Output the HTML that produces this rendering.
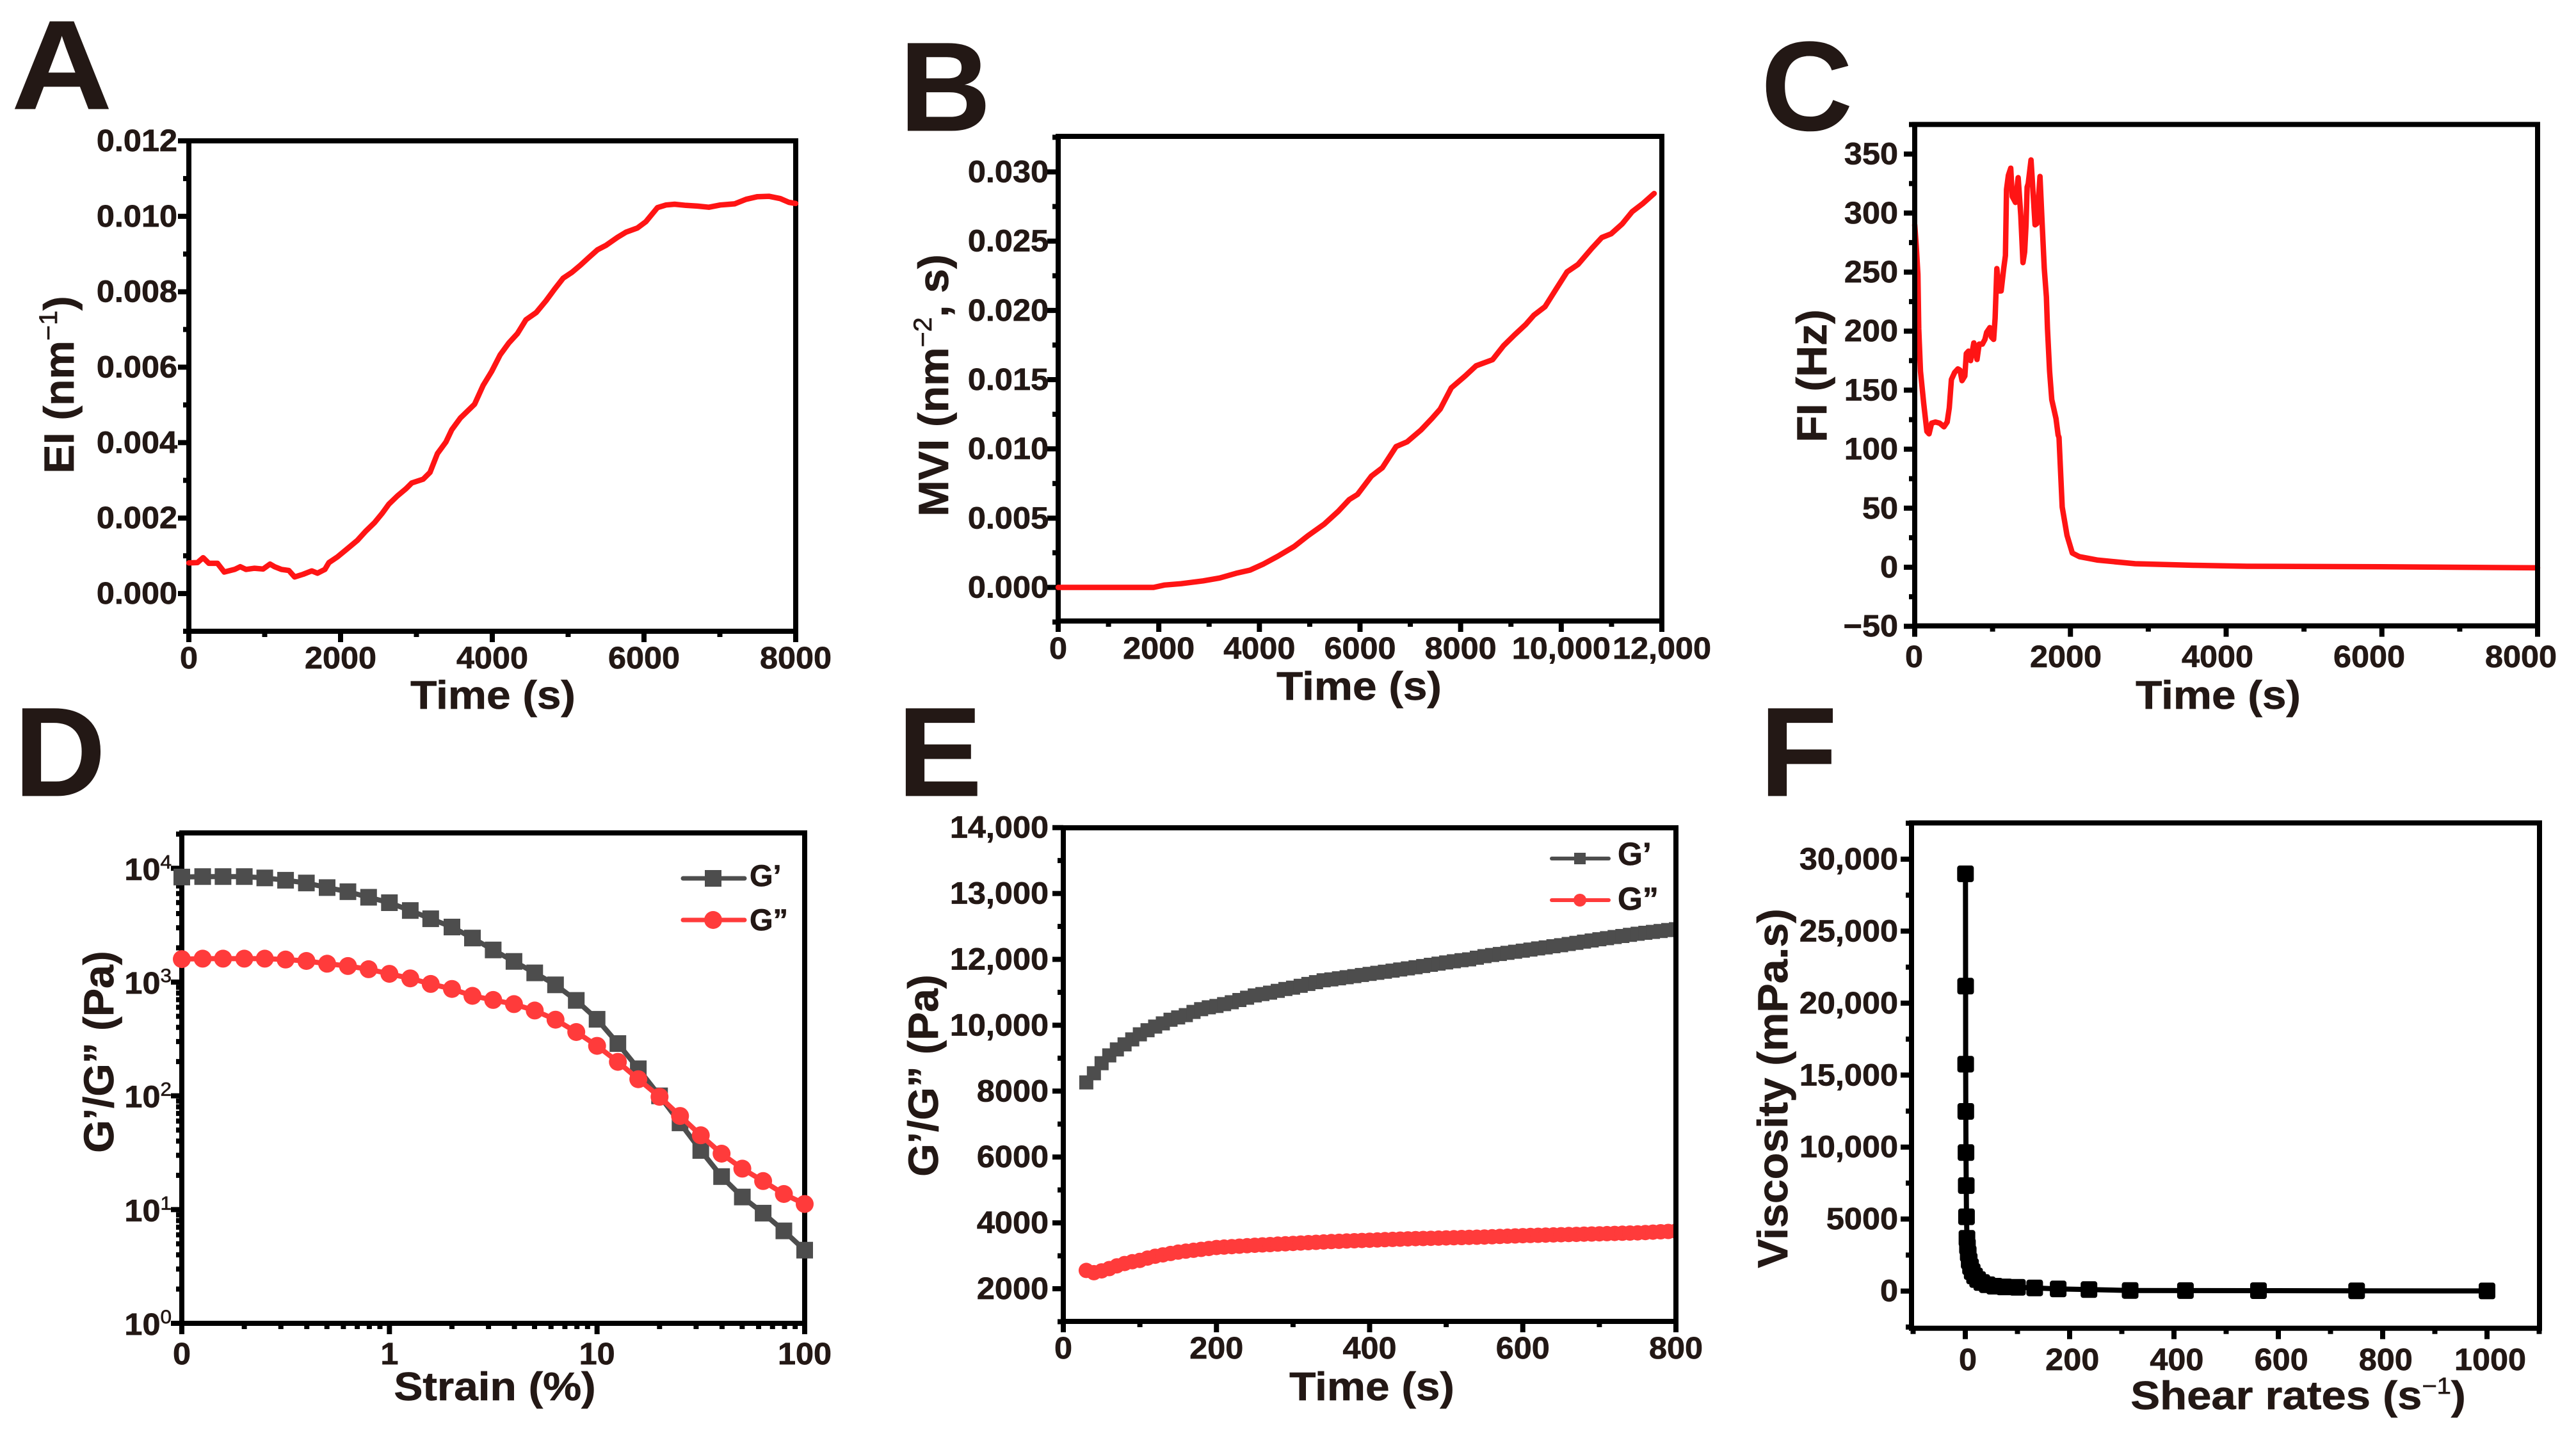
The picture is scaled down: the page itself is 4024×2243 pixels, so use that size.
<!DOCTYPE html>
<html lang="en">
<head>
<meta charset="utf-8">
<title>Rheology and viscoelasticity panels</title>
<style>
html,body{margin:0;padding:0;background:#fff;}
svg{display:block;}
text{font-family:"Liberation Sans",Arial,sans-serif;font-weight:700;fill:#231815;stroke:#231815;stroke-width:0.7;}
</style>
</head>
<body>
<svg id="figure" xmlns="http://www.w3.org/2000/svg" width="4024" height="2243" viewBox="0 0 4024 2243">
  <defs>
    <clipPath id="panel-e-clip"><rect x="1661" y="1293" width="957" height="771"/></clipPath>
  </defs>
  <rect x="0" y="0" width="4024" height="2243" fill="#ffffff"/>

  <text transform="translate(18,170) scale(1.1,1)" font-size="198">A</text>
  <text x="1405" y="204" font-size="198">B</text>
  <text x="2751" y="203" font-size="198">C</text>
  <text x="22" y="1243" font-size="198">D</text>
  <text x="1402" y="1243" font-size="198">E</text>
  <text x="2749" y="1243" font-size="198">F</text>

  <g id="panel-a"></g>
  <g id="panel-b"></g>
  <g id="panel-c"></g>
  <g id="panel-d"></g>
  <g id="panel-e"></g>
  <g id="panel-f"></g>

  <text transform="translate(770,1107) scale(1.09,1)" text-anchor="middle" font-size="62">Time (s)</text>
  <text transform="translate(115,601) rotate(-90) scale(1.03,1)" text-anchor="middle" font-size="66">EI (nm<tspan dy="-26" font-size="40" font-weight="400">−1</tspan><tspan dy="26">)</tspan></text>

  <text transform="translate(2123,1093) scale(1.09,1)" text-anchor="middle" font-size="62">Time (s)</text>
  <text transform="translate(1481,602) rotate(-90) scale(1.03,1)" text-anchor="middle" font-size="66">MVI (nm<tspan dy="-26" font-size="40" font-weight="400">−2</tspan><tspan dy="26">, s)</tspan></text>

  <text transform="translate(3465,1107) scale(1.09,1)" text-anchor="middle" font-size="62">Time (s)</text>
  <text transform="translate(2853,587) rotate(-90) scale(1.03,1)" text-anchor="middle" font-size="66">FI (Hz)</text>

  <text transform="translate(773,2187) scale(1.09,1)" text-anchor="middle" font-size="62">Strain (%)</text>
  <text transform="translate(177,1643) rotate(-90) scale(1.0,1)" text-anchor="middle" font-size="66">G’/G” (Pa)</text>

  <text transform="translate(2143,2187) scale(1.09,1)" text-anchor="middle" font-size="62">Time (s)</text>
  <text transform="translate(1465,1680) rotate(-90) scale(1.0,1)" text-anchor="middle" font-size="66">G’/G” (Pa)</text>

  <text transform="translate(3590,2201) scale(1.11,1)" text-anchor="middle" font-size="62">Shear rates (s<tspan dy="-24" font-size="36" font-weight="400">−1</tspan><tspan dy="24">)</tspan></text>
  <text transform="translate(2792,1700) rotate(-90) scale(1.03,1)" text-anchor="middle" font-size="66">Viscosity (mPa.s)</text>

  <g>
    <line x1="1067" y1="1372" x2="1163" y2="1372" stroke="#4d4d4d" stroke-width="7" stroke-linecap="round"/>
    <rect x="1101" y="1359" width="26" height="26" fill="#4d4d4d"/>
    <text x="1171" y="1384" font-size="47">G’</text>
    <line x1="1067" y1="1437" x2="1163" y2="1437" stroke="#ff3b3b" stroke-width="7" stroke-linecap="round"/>
    <circle cx="1114" cy="1437" r="14" fill="#ff3b3b"/>
    <text x="1171" y="1453" font-size="47">G”</text>
  </g>
  <g>
    <line x1="2424" y1="1341" x2="2513" y2="1341" stroke="#4d4d4d" stroke-width="6" stroke-linecap="round"/>
    <rect x="2459" y="1332" width="18" height="18" fill="#4d4d4d"/>
    <text x="2527" y="1351" font-size="50">G’</text>
    <line x1="2424" y1="1406" x2="2513" y2="1406" stroke="#ff3b3b" stroke-width="6" stroke-linecap="round"/>
    <circle cx="2468" cy="1406" r="10" fill="#ff3b3b"/>
    <text x="2527" y="1421" font-size="50">G”</text>
  </g>
</svg>

<script>
/* ---------- Panel A ---------- */
const aTime = [0,113,188,264,377,467,603,678,753,866,979,1070,1130,1220,1318,1394,1507,1620,1695,1793,1846,1959,2109,2222,2335,2448,2546,2637,2750,2863,2938,3089,3179,3277,3390,3465,3578,3767,3880,3992,4105,4218,4331,4445,4580,4708,4821,4934,5047,5160,5273,5386,5499,5650,5763,5913,6026,6177,6290,6403,6554,6704,6855,7006,7194,7345,7495,7646,7797,7910,8000];
const aEI = [0.00081,0.00082,0.00095,0.00080,0.00080,0.00057,0.00064,0.00071,0.00064,0.00067,0.00065,0.00078,0.00071,0.00064,0.00061,0.00044,0.00051,0.00060,0.00054,0.00064,0.00082,0.00097,0.00122,0.00141,0.00166,0.00188,0.00212,0.00237,0.00259,0.00278,0.00293,0.00303,0.00321,0.00371,0.00402,0.00434,0.00465,0.00502,0.00552,0.00589,0.00633,0.00664,0.00689,0.00726,0.00745,0.00776,0.00807,0.00836,0.00851,0.00870,0.00891,0.00911,0.00923,0.00944,0.00958,0.00969,0.00986,0.01023,0.01030,0.01032,0.01029,0.01027,0.01024,0.01030,0.01033,0.01045,0.01052,0.01053,0.01047,0.01037,0.01034];
const aXTicks = [0,2000,4000,6000,8000];
const aXLabels = ["0","2000","4000","6000","8000"];
const aXMinor = [1000,3000,5000,7000];
const aYTicks = [0,0.002,0.004,0.006,0.008,0.010,0.012];
const aYLabels = ["0.000","0.002","0.004","0.006","0.008","0.010","0.012"];
const aYMinor = [-0.001,0.001,0.003,0.005,0.007,0.009,0.011];

/* ---------- Panel B ---------- */
const bTime = [0,1896,2115,2444,2882,3211,3540,3814,4088,4362,4690,4964,5293,5567,5786,5951,6225,6444,6718,6937,7211,7430,7595,7814,8088,8307,8636,8855,9074,9293,9458,9677,9896,10115,10334,10608,10806,10992,11211,11408,11627,11847];
const bMVI = [0,0,0.00017,0.00027,0.00047,0.00068,0.00102,0.00125,0.00170,0.00224,0.00295,0.00373,0.00458,0.00549,0.00634,0.00671,0.00803,0.00864,0.01017,0.01051,0.01136,0.01220,0.01288,0.01441,0.01526,0.01600,0.01644,0.01746,0.01824,0.01898,0.01966,0.02027,0.02153,0.02278,0.02332,0.02448,0.02526,0.02553,0.02624,0.02712,0.02773,0.02844];
const bXTicks = [0,2000,4000,6000,8000,10000,12000];
const bXLabels = ["0","2000","4000","6000","8000","10,000","12,000"];
const bXMinor = [1000,3000,5000,7000,9000,11000];
const bYTicks = [0,0.005,0.010,0.015,0.020,0.025,0.030];
const bYLabels = ["0.000","0.005","0.010","0.015","0.020","0.025","0.030"];
const bYMinor = [-0.0025,0.0025,0.0075,0.0125,0.0175,0.0225,0.0275,0.0325];

/* ---------- Panel C ---------- */
const cTime = [0,20,41,52,74,115,156,184,217,266,321,376,417,444,471,513,554,581,608,644,663,691,718,759,800,828,869,902,924,965,984,1014,1033,1055,1083,1110,1143,1165,1179,1203,1233,1253,1294,1329,1362,1390,1412,1430,1444,1458,1494,1546,1568,1609,1636,1664,1691,1705,1732,1760,1815,1842,1853,1894,1956,2024,2113,2352,2831,3583,4267,5976,8000];
const cFI = [290,272,248,202,166,139,115,113,122,123,122,119,123,135,159,165,168,167,158,162,181,183,175,190,176,189,189,193,199,203,195,193,211,253,234,234,253,264,320,332,338,314,309,330,298,258,267,290,322,325,345,290,291,331,292,253,229,202,166,142,126,112,110,51,27,12,9,6,3,1.6,0.8,0.4,-0.5];
const cXTicks = [0,2000,4000,6000,8000];
const cXLabels = ["0","2000","4000","6000","8000"];
const cXMinor = [1000,3000,5000,7000];
const cYTicks = [-50,0,50,100,150,200,250,300,350];
const cYLabels = ["−50","0","50","100","150","200","250","300","350"];
const cYMinor = [-25,25,75,125,175,225,275,325,375];

/* ---------- Panel D ---------- */
const dStrain = [0.1,0.126,0.158,0.2,0.251,0.316,0.398,0.501,0.631,0.794,1,1.26,1.58,2,2.51,3.16,3.98,5.01,6.31,7.94,10,12.6,15.8,20,25.1,31.6,39.8,50.1,63.1,79.4,100];
const dGprime = [8380,8460,8460,8460,8230,7860,7430,6770,6230,5570,4985,4256,3600,3048,2438,1915,1519,1205,946,690,471,288,173,100,57.8,33.1,19.5,12.9,9.3,6.5,4.4];
const dGdouble = [1591,1606,1606,1606,1606,1577,1533,1450,1384,1297,1182,1078,963,870,757,696,640,562,467,364,275,199,140,98,66.5,45,31,22.9,17.8,13.7,11.2];
const dXTicks = [0.1,1,10,100];
const dXLabels = ["0","1","10","100"];
const dYTicks = [1,10,100,1000,10000];
const dYExponents = ["0","1","2","3","4"];
const dDecades = [0.1,1,10];
const dYDecades = [1,10,100,1000,10000];
const dMultipliers = [2,3,4,5,6,7,8,9];

/* ---------- Panel E ---------- */
const eTime = [30,40,50,60,70,80,90,100,110,120,130,140,150,160,170,180,190,200,210,220,230,240,250,260,270,280,290,300,310,320,330,340,350,360,370,380,390,400,410,420,430,440,450,460,470,480,490,500,510,520,530,540,550,560,570,580,590,600,610,620,630,640,650,660,670,680,690,700,710,720,730,740,750,760,770,780,790,800];
const eGprime = [8264,8542,8848,9084,9265,9418,9571,9724,9849,9960,10057,10168,10238,10307,10405,10488,10544,10585,10641,10697,10766,10836,10905,10947,10989,11044,11100,11141,11197,11253,11308,11364,11392,11425,11458,11491,11525,11558,11592,11625,11658,11692,11725,11761,11797,11834,11870,11906,11941,11975,12000,12025,12049,12066,12082,12099,12116,12132,12149,12166,12182,12199,12215,12233,12251,12269,12287,12305,12322,12339,12355,12372,12389,12403,12417,12431,12445,12458];
const eGdouble = [2556,2487,2542,2612,2695,2765,2820,2862,2931,2987,3029,3070,3112,3140,3168,3195,3223,3251,3265,3279,3293,3306,3320,3331,3342,3354,3365,3376,3387,3399,3410,3421,3432,3440,3449,3457,3465,3473,3481,3490,3498,3507,3515,3521,3526,3532,3537,3543,3549,3554,3560,3565,3571,3579,3587,3596,3604,3612,3618,3623,3629,3634,3640,3646,3651,3657,3662,3668,3674,3679,3685,3690,3696,3707,3718,3729,3740,3751];
const eXTicks = [0,200,400,600,800];
const eXLabels = ["0","200","400","600","800"];
const eXMinor = [100,300,500,700];
const eYTicks = [2000,4000,6000,8000,10000,12000,13000,14000];
const eYLabels = ["2000","4000","6000","8000","10,000","12,000","13,000","14,000"];

/* ---------- Panel F ---------- */
const fRate = [0.42,0.56,0.75,1,1.33,1.78,2.37,3.16,4.22,5.62,7.5,10,13.3,17.8,23.7,31.6,42.2,56.2,75,100,133,178,237,316,422,562,750,1000];
const fViscosity = [28980,21180,15760,12480,9620,7325,5160,3660,3100,2600,2100,1700,1350,1050,800,590,440,340,290,262,218,147,102,40,30,25,15,10];
const fXTicks = [0,200,400,600,800,1000];
const fXLabels = ["0","200","400","600","800","1000"];
const fXMinor = [-100,100,300,500,700,900,1100];
const fYTicks = [0,5000,10000,15000,20000,25000,30000];
const fYLabels = ["0","5000","10,000","15,000","20,000","25,000","30,000"];
const fYMinor = [-2500,2500,7500,12500,17500,22500,27500,32500];

/* ---------- Helpers ---------- */
const NS = "http://www.w3.org/2000/svg";
const RED = "#ff1414";
const GREY = "#4d4d4d";
const SOFT_RED = "#ff3b3b";

function linear(d0, d1, r0, r1) {
  return function (v) { return r0 + (v - d0) * (r1 - r0) / (d1 - d0); };
}
function logScale(d0, d1, r0, r1) {
  return function (v) { return r0 + (Math.log10(v) - Math.log10(d0)) * (r1 - r0) / (Math.log10(d1) - Math.log10(d0)); };
}
function make(tag, name, parent) {
  const el = document.createElementNS(NS, tag);
  
  
  parent.appendChild(el);
  return el;
}
function tick(g, name, x1, y1, x2, y2) {
  const l = make("line", name, g);
  l.setAttribute("x1", x1); l.setAttribute("y1", y1);
  l.setAttribute("x2", x2); l.setAttribute("y2", y2);
  l.setAttribute("stroke", "#000");
  l.setAttribute("stroke-width", 8);
}
function label(g, name, x, y, str, anchor) {
  const t = make("text", name, g);
  t.setAttribute("transform", "translate(" + x + "," + y + ") scale(1.05,1)");
  t.setAttribute("text-anchor", anchor);
  t.setAttribute("font-size", 48);
  t.textContent = str;
  return t;
}
function frame(g, box) {
  const r = make("rect", "plot-frame", g);
  r.setAttribute("x", box.l); r.setAttribute("y", box.t);
  r.setAttribute("width", box.r - box.l); r.setAttribute("height", box.b - box.t);
  r.setAttribute("fill", "none"); r.setAttribute("stroke", "#000");
  r.setAttribute("stroke-width", 8);
}
function xAxis(g, box, xs, ticks, labels, minor, labelY, labelX) {
  ticks.forEach(function (v, i) {
    tick(g, "x-tick", xs(v), box.b, xs(v), box.b + 17);
    label(g, "x-tick-label", labelX ? labelX(v) : xs(v), labelY, labels[i], "middle");
  });
  minor.forEach(function (v) { tick(g, "x-minor-tick", xs(v), box.b, xs(v), box.b + 9); });
}
function yAxis(g, box, ys, ticks, labels, minor, labelR) {
  ticks.forEach(function (v, i) {
    tick(g, "y-tick", box.l, ys(v), box.l - 17, ys(v));
    label(g, "y-tick-label", labelR, ys(v) + 16, labels[i], "end");
  });
  minor.forEach(function (v) { tick(g, "y-minor-tick", box.l, ys(v), box.l - 9, ys(v)); });
}
function polyline(g, name, xs, ys, X, Y, color, width) {
  const p = make("polyline", name, g);
  p.setAttribute("points", X.map(function (v, i) { return xs(v).toFixed(1) + "," + ys(Y[i]).toFixed(1); }).join(" "));
  p.setAttribute("fill", "none");
  p.setAttribute("stroke", color);
  p.setAttribute("stroke-width", width);
  p.setAttribute("stroke-linejoin", "round");
  p.setAttribute("stroke-linecap", "round");
}
function squares(g, name, xs, ys, X, Y, color, size, rx) {
  X.forEach(function (v, i) {
    const r = make("rect", name, g);
    r.setAttribute("x", (xs(v) - size / 2).toFixed(1));
    r.setAttribute("y", (ys(Y[i]) - size / 2).toFixed(1));
    r.setAttribute("width", size);
    r.setAttribute("height", size);
    r.setAttribute("rx", rx);
    r.setAttribute("fill", color);
  });
}
function circles(g, name, xs, ys, X, Y, color, radius) {
  X.forEach(function (v, i) {
    const c = make("circle", name, g);
    c.setAttribute("cx", xs(v).toFixed(1));
    c.setAttribute("cy", ys(Y[i]).toFixed(1));
    c.setAttribute("r", radius);
    c.setAttribute("fill", color);
  });
}

/* ---------- Panel A draw ---------- */
(function () {
  const g = document.getElementById("panel-a");
  const box = { l: 295, r: 1243, t: 220, b: 986 };
  const xs = linear(0, 8000, box.l, box.r);
  const ys = linear(-0.001, 0.012, box.b, box.t);
  frame(g, box);
  xAxis(g, box, xs, aXTicks, aXLabels, aXMinor, 1044);
  yAxis(g, box, ys, aYTicks, aYLabels, aYMinor, 277);
  polyline(g, "ei-line", xs, ys, aTime, aEI, RED, 8.5);
})();

/* ---------- Panel B draw ---------- */
(function () {
  const g = document.getElementById("panel-b");
  const box = { l: 1653, r: 2596, t: 213, b: 970 };
  const xs = linear(0, 12000, box.l, box.r);
  const ys = linear(0, 0.03, 917.5, 268.5);
  frame(g, box);
  xAxis(g, box, xs, bXTicks, bXLabels, bXMinor, 1029);
  yAxis(g, box, ys, bYTicks, bYLabels, bYMinor, 1638);
  polyline(g, "mvi-line", xs, ys, bTime, bMVI, RED, 8.5);
})();

/* ---------- Panel C draw ---------- */
(function () {
  const g = document.getElementById("panel-c");
  const box = { l: 2991, r: 3964, t: 194.4, b: 977.6 };
  const xs = linear(0, 8000, box.l, box.r);
  const ys = linear(0, 350, 886, 240.6);
  const labelX = linear(0, 8000, 2990, 3938);
  polyline(g, "fi-line", xs, ys, cTime, cFI, RED, 8.5);
  frame(g, box);
  xAxis(g, box, xs, cXTicks, cXLabels, cXMinor, 1042, labelX);
  yAxis(g, box, ys, cYTicks, cYLabels, cYMinor, 2965);
})();

/* ---------- Panel D draw ---------- */
(function () {
  const g = document.getElementById("panel-d");
  const box = { l: 284, r: 1257, t: 1301, b: 2067 };
  const xs = logScale(0.1, 100, box.l, box.r);
  const ys = logScale(1, 10000, box.b, 1356.3);
  frame(g, box);
  xAxis(g, box, xs, dXTicks, dXLabels, [], 2131);
  dDecades.forEach(function (d) {
    dMultipliers.forEach(function (m) { tick(g, "x-minor-tick", xs(d * m), box.b, xs(d * m), box.b + 9); });
  });
  dYDecades.forEach(function (d) {
    dMultipliers.forEach(function (m) {
      if (d * m <= 20000) { tick(g, "y-minor-tick", box.l, ys(d * m), box.l - 9, ys(d * m)); }
    });
  });
  dYTicks.forEach(function (v, i) {
    tick(g, "y-tick", box.l, ys(v), box.l - 17, ys(v));
    const t = label(g, "y-tick-label", 268, ys(v) + 18, "10", "end");
    const s = make("tspan", "y-tick-exponent", t);
    s.setAttribute("dy", -18);
    s.setAttribute("font-size", 30);
    s.setAttribute("font-weight", 400);
    s.textContent = dYExponents[i];
  });
  polyline(g, "gprime-line", xs, ys, dStrain, dGprime, GREY, 8);
  squares(g, "gprime-point", xs, ys, dStrain, dGprime, GREY, 26, 0);
  polyline(g, "gdouble-line", xs, ys, dStrain, dGdouble, SOFT_RED, 8);
  circles(g, "gdouble-point", xs, ys, dStrain, dGdouble, SOFT_RED, 14);
})();

/* ---------- Panel E draw ---------- */
(function () {
  const g = document.getElementById("panel-e");
  const box = { l: 1661, r: 2618, t: 1293, b: 2064 };
  const step = 102.9;
  const base = 2013;
  const xs = linear(0, 800, box.l, box.r);
  function ys(v) {
    let i = 0;
    while (i < eYTicks.length - 2 && v > eYTicks[i + 1]) { i++; }
    return base - step * (i + (v - eYTicks[i]) / (eYTicks[i + 1] - eYTicks[i]));
  }
  xAxis(g, box, xs, eXTicks, eXLabels, eXMinor, 2122);
  eYTicks.forEach(function (v, i) {
    tick(g, "y-tick", box.l, ys(v), box.l - 17, ys(v));
    label(g, "y-tick-label", 1638, ys(v) + 16, eYLabels[i], "end");
    tick(g, "y-minor-tick", box.l, ys(v) + step / 2, box.l - 9, ys(v) + step / 2);
  });
  const marks = make("g", "series-marks", g);
  marks.setAttribute("clip-path", "url(#panel-e-clip)");
  squares(marks, "gprime-point", xs, ys, eTime, eGprime, GREY, 22, 0);
  circles(marks, "gdouble-point", xs, ys, eTime, eGdouble, SOFT_RED, 12);
  frame(g, box);
})();

/* ---------- Panel F draw ---------- */
(function () {
  const g = document.getElementById("panel-f");
  const box = { l: 2986, r: 3967, t: 1285.4, b: 2074.7 };
  const xs = linear(0, 1000, 3070, 3885);
  const ys = linear(0, 30000, 2016.6, 1342);
  const labelX = linear(0, 1000, 3074, 3890);
  frame(g, box);
  xAxis(g, box, xs, fXTicks, fXLabels, fXMinor, 2140, labelX);
  yAxis(g, box, ys, fYTicks, fYLabels, fYMinor, 2965);
  polyline(g, "viscosity-line", xs, ys, fRate, fViscosity, "#000", 8);
  squares(g, "viscosity-point", xs, ys, fRate, fViscosity, "#000", 26, 4);
})();
</script>
</body>
</html>
